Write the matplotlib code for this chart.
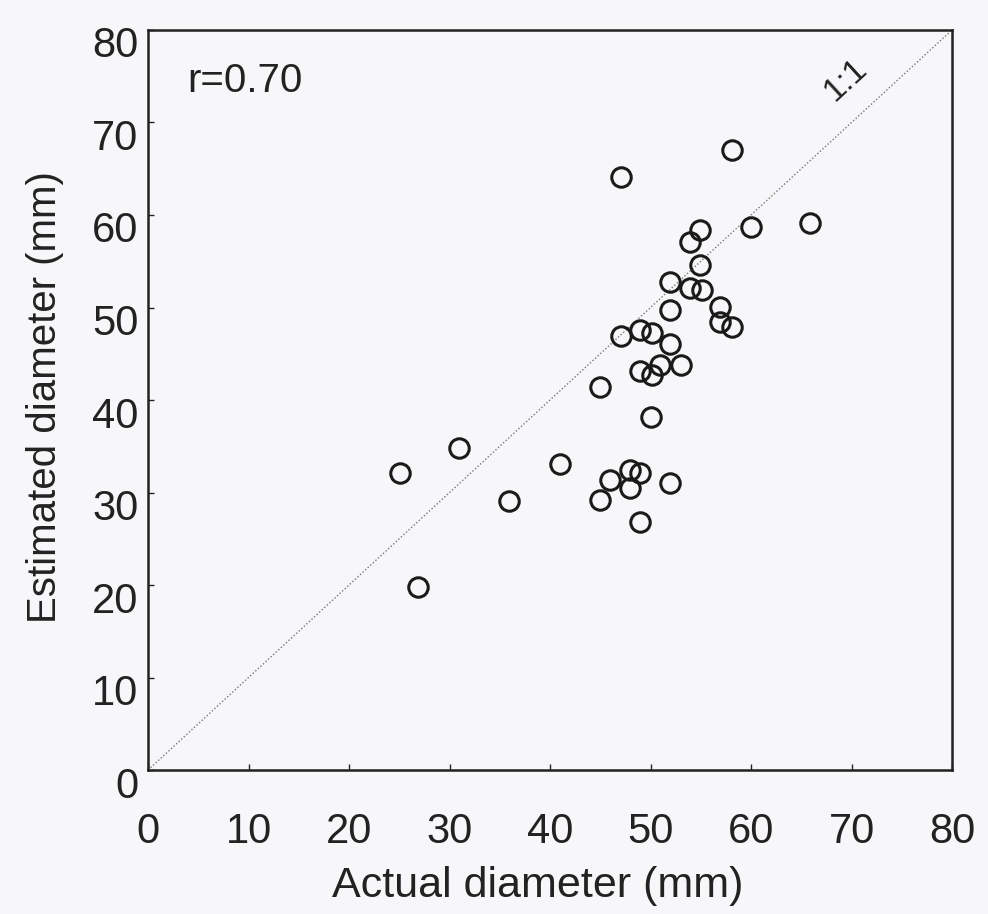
import matplotlib
matplotlib.use("Agg")
import matplotlib.pyplot as plt
import matplotlib.transforms as mtransforms

plt.rcParams['font.family'] = ['Liberation Sans', 'DejaVu Sans']

# actual vs estimated diameter (mm)
actual = [25.1, 26.9, 30.9, 35.9, 41.0, 45.0, 45.0, 46.0, 47.1, 47.1,
          48.0, 48.0, 49.0, 49.0, 49.0, 49.0, 50.1, 50.1, 50.0, 50.9,
          51.9, 51.9, 51.9, 51.9, 53.0, 53.9, 53.9, 54.9, 54.9, 55.1,
          56.9, 56.9, 58.1, 58.1, 60.0, 65.9]
estimated = [32.1, 19.8, 34.8, 29.1, 33.1, 41.4, 29.2, 31.4, 64.1, 46.9,
             32.4, 30.5, 47.6, 43.1, 32.1, 26.8, 47.2, 42.7, 38.2, 43.8,
             52.8, 49.7, 46.1, 31.0, 43.8, 57.1, 52.1, 58.4, 54.6, 51.9,
             50.1, 48.4, 47.9, 67.0, 58.7, 59.1]
ticks = [0, 10, 20, 30, 40, 50, 60, 70, 80]
r_text = 'r=0.70'

fig = plt.figure(figsize=(9.88, 9.14), dpi=100)
fig.patch.set_facecolor('#f7f6f8')
ax = fig.add_axes([0.1498, 0.1575, 0.8138, 0.8097])
ax.set_facecolor('#f7f6f8')

# 1:1 line
ax.plot([0, 80], [0, 80], linestyle=(0, (1, 1.5)), color='#777777', linewidth=1.0)
ax.text(69.4, 74.6, '1:1', rotation=42.6, fontsize=24, color='#222222',
        ha='center', va='center')

ax.plot(actual, estimated, 'o', markersize=14, markerfacecolor='none',
        markeredgecolor='#1a1a1a', markeredgewidth=2.2)

ax.text(3.9, 74.5, r_text, fontsize=29, color='#222222', va='center')

ax.set_xlim(0, 80)
ax.set_ylim(0, 80)
ax.set_xticks(ticks)
ax.set_yticks(ticks)
ax.tick_params(direction='in', length=4, width=1, labelsize=30,
               colors='#222222')
ax.tick_params(axis='x', pad=30)
ax.tick_params(axis='y', pad=7)
for sp in ax.spines.values():
    sp.set_linewidth(1.8)
    sp.set_color('#222222')

# y tick labels sit a little below their ticks in the original
off = mtransforms.ScaledTranslation(0, -12 / 100, fig.dpi_scale_trans)
for lab in ax.get_yticklabels():
    lab.set_transform(lab.get_transform() + off)

ax.set_xlabel('Actual diameter (mm)', fontsize=31, color='#222222')
ax.set_ylabel('Estimated diameter (mm)', fontsize=29, color='#222222')
ax.xaxis.set_label_coords(0.485, -0.13)
ax.yaxis.set_label_coords(-0.104, 0.504)

fig.savefig('out.png', dpi=100, facecolor=fig.get_facecolor())
